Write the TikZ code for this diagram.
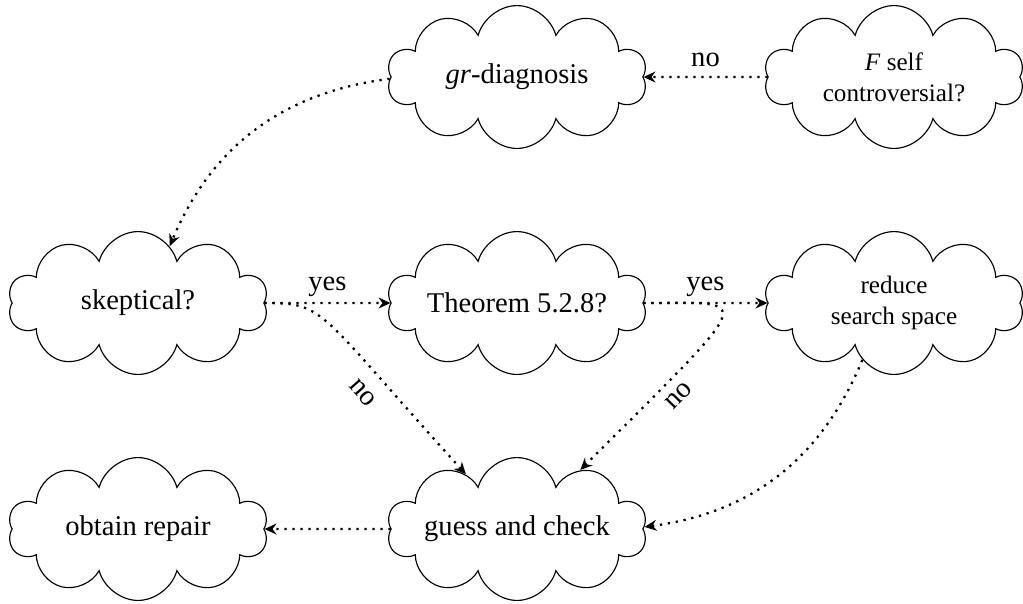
\documentclass[tikz,border=0pt]{standalone}
\usepackage{fontspec}
\setmainfont{Liberation Serif}
\usetikzlibrary{shapes.symbols,arrows.meta}
\begin{document}
\begin{tikzpicture}[x=0.35pt,y=0.35pt,
  cl/.style={cloud, cloud puffs=10, cloud ignores aspect, draw, line width=0.4pt, minimum width=91pt, minimum height=50pt, inner sep=0pt, align=center, font=\fontsize{10}{12}\selectfont},
  smalltext/.style={font=\fontsize{8.8}{10.8}\selectfont},
  arr/.style={thick, dotted, -{Stealth[length=4.2pt,width=3.8pt,inset=1.4pt]}},
  lab/.style={font=\fontsize{10}{12}\selectfont}]
\useasboundingbox (0,0) rectangle (1023,-603);
\node[cl] (gr) at (517,-77) {\textit{gr}-diagnosis};
\node[cl,smalltext] (F) at (894,-77) {\textit{F} self\\controversial?};
\node[cl] (sk) at (138,-303) {skeptical?};
\node[cl] (th) at (517,-303) {Theorem 5.2.8?};
\node[cl,smalltext] (re) at (894,-303) {reduce\\search space};
\node[cl] (ob) at (138,-529) {obtain repair};
\node[cl] (gu) at (517,-529) {guess and check};

\draw[arr] (F) -- node[lab,above] {no} (gr);
\draw[arr] (gr) to[bend right] (sk);
\draw[arr] (sk) -- node[lab,above=-1.5pt] {yes} (th);
\draw[arr] (th) -- node[lab,above=-1.5pt] {yes} (re);
\draw[arr] (sk.east) .. controls +(62,0) and +(-150,165) .. node[lab,pos=0.75,sloped,below=2pt] {no} (gu.133);
\draw[arr] (th.east) .. controls +(112,0) and +(180,180) .. node[lab,pos=0.8,sloped,below] {no} (gu.43);
\draw[arr] (re) to[bend left] (gu);
\draw[arr] (gu) -- (ob);
\end{tikzpicture}
\end{document}
